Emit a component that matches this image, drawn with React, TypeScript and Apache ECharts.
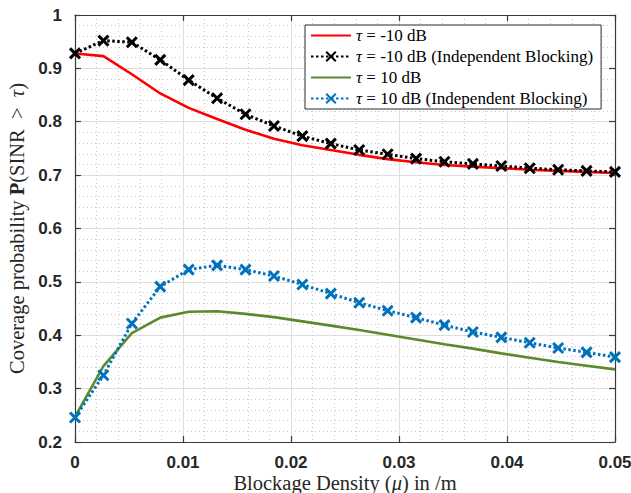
import React, { useEffect, useRef } from "react";
import * as echarts from "echarts";

const xValues = [0, 0.002632, 0.005263, 0.007895, 0.010526, 0.013158, 0.015789, 0.018421, 0.021053, 0.023684, 0.026316, 0.028947, 0.031579, 0.034211, 0.036842, 0.039474, 0.042105, 0.044737, 0.047368, 0.05];
const redVals = [0.928, 0.923, 0.889, 0.853, 0.826, 0.805, 0.785, 0.768, 0.756, 0.747, 0.738, 0.730, 0.724, 0.719, 0.716, 0.713, 0.710, 0.708, 0.706, 0.704];
const blackVals = [0.928, 0.952, 0.949, 0.916, 0.878, 0.844, 0.814, 0.792, 0.773, 0.759, 0.747, 0.739, 0.731, 0.725, 0.721, 0.717, 0.713, 0.710, 0.708, 0.706];
const greenVals = [0.247, 0.342, 0.404, 0.433, 0.444, 0.445, 0.440, 0.434, 0.426, 0.418, 0.410, 0.401, 0.392, 0.383, 0.375, 0.366, 0.358, 0.350, 0.343, 0.336];
const blueVals = [0.246, 0.325, 0.422, 0.491, 0.523, 0.531, 0.523, 0.511, 0.495, 0.478, 0.461, 0.446, 0.433, 0.419, 0.406, 0.396, 0.386, 0.376, 0.368, 0.359];
const seriesNames = [
  "τ = -10 dB",
  "τ = -10 dB (Independent Blocking)",
  "τ = 10 dB",
  "τ = 10 dB (Independent Blocking)",
];
const xTitle = "Blockage Density ({i|μ}) in /m";
const yTitle = "Coverage probability {b|P}(SINR  >  {i|τ})";

const SERIF = "'Liberation Serif', 'Times New Roman', serif";
const SANS = "'Liberation Sans', Arial, Helvetica, sans-serif";
const AXIS_COLOR = "#3a3a3a";
const X_MARK = "path://M0,0L10,10M10,0L0,10";
const TITLE_SIZE = 20.5;
const TICK_SIZE = 17;

function pairs(ys: number[]) {
  return ys.map((y, i) => [xValues[i], y]);
}

export default function App() {
  const ref = useRef<HTMLDivElement>(null);
  useEffect(() => {
    document.body.style.margin = "0";
    const chart = echarts.init(ref.current!, null, { renderer: "svg" });
    const titleRich = {
      i: { fontStyle: "italic", fontFamily: SERIF, fontSize: TITLE_SIZE, lineHeight: 22, color: "#262626" },
      b: { fontWeight: "bold", fontFamily: SERIF, fontSize: TITLE_SIZE, lineHeight: 22, color: "#262626" },
    };
    const lineSeries = (name: string, data: number[], color: string, dotted: boolean) => ({
      name,
      type: "line",
      data: pairs(data),
      xAxisIndex: 0,
      yAxisIndex: 0,
      showSymbol: dotted,
      symbol: dotted ? X_MARK : "none",
      symbolSize: 10,
      lineStyle: { color, width: dotted ? 3 : 2.6, type: dotted ? [2.5, 2.5] : "solid" },
      itemStyle: { color, borderColor: color, borderWidth: 3 },
      emphasis: { disabled: true },
    });
    const legendItem = (name: string, solid: boolean) =>
      solid ? { name, itemStyle: { opacity: 0 } } : { name };
    chart.setOption({
      animation: false,
      backgroundColor: "#ffffff",
      grid: { left: 75, right: 16, top: 15, bottom: 51, containLabel: false, outerBoundsMode: "none" },
      legend: {
        left: 305,
        top: 25,
        orient: "vertical",
        itemWidth: 40,
        itemHeight: 12,
        itemGap: 4,
        padding: [2, 8, 2, 5],
        backgroundColor: "#ffffff",
        borderColor: "#2a2a2a",
        borderWidth: 1,
        borderRadius: 0,
        z: 10,
        data: [
          legendItem(seriesNames[0], true),
          legendItem(seriesNames[1], false),
          legendItem(seriesNames[2], true),
          legendItem(seriesNames[3], false),
        ],
        formatter: (name: string) => name.replace("τ", "{i|τ}"),
        textStyle: {
          fontFamily: SERIF,
          fontSize: 17,
          lineHeight: 17,
          color: "#000",
          rich: { i: { fontStyle: "italic", fontFamily: SERIF, fontSize: 17, lineHeight: 17, color: "#000" } },
        },
      },
      xAxis: [
        {
          type: "value",
          min: 0,
          max: 0.05,
          interval: 0.01,
          position: "bottom",
          name: xTitle,
          nameLocation: "middle",
          nameGap: 30,
          nameMoveOverlap: false,
          nameTextStyle: { fontFamily: SERIF, fontSize: TITLE_SIZE, lineHeight: 22, color: "#262626", rich: titleRich },
          axisLine: { show: true, onZero: false, lineStyle: { color: AXIS_COLOR, width: 1.2 } },
          axisTick: { show: true, inside: true, length: 6, lineStyle: { color: AXIS_COLOR, width: 1.2 } },
          axisLabel: { margin: 12, fontFamily: SANS, fontSize: TICK_SIZE, fontWeight: "bold", color: "#262626" },
          splitLine: { show: true, lineStyle: { color: "#dedede", width: 1 } },
          minorTick: { show: false, splitNumber: 5 },
          minorSplitLine: { show: true, lineStyle: { color: "#c8c8c8", width: 1, type: [1, 3] } },
        },
        {
          type: "value",
          min: 0,
          max: 0.05,
          interval: 0.01,
          position: "top",
          axisLine: { show: true, onZero: false, lineStyle: { color: AXIS_COLOR, width: 1.2 } },
          axisTick: { show: true, inside: true, length: 6, lineStyle: { color: AXIS_COLOR, width: 1.2 } },
          axisLabel: { show: false },
          splitLine: { show: false },
        },
      ],
      yAxis: [
        {
          type: "value",
          min: 0.2,
          max: 1,
          interval: 0.1,
          position: "left",
          name: yTitle,
          nameLocation: "middle",
          nameGap: 47,
          nameMoveOverlap: false,
          nameTextStyle: { fontFamily: SERIF, fontSize: TITLE_SIZE, lineHeight: 22, color: "#262626", rich: titleRich },
          axisLine: { show: true, onZero: false, lineStyle: { color: AXIS_COLOR, width: 1.2 } },
          axisTick: { show: true, inside: true, length: 6, lineStyle: { color: AXIS_COLOR, width: 1.2 } },
          axisLabel: { margin: 13, fontFamily: SANS, fontSize: TICK_SIZE, fontWeight: "bold", color: "#262626" },
          splitLine: { show: true, lineStyle: { color: "#dedede", width: 1 } },
          minorTick: { show: false, splitNumber: 5 },
          minorSplitLine: { show: true, lineStyle: { color: "#c8c8c8", width: 1, type: [1, 3] } },
        },
        {
          type: "value",
          min: 0.2,
          max: 1,
          interval: 0.1,
          position: "right",
          axisLine: { show: true, onZero: false, lineStyle: { color: AXIS_COLOR, width: 1.2 } },
          axisTick: { show: true, inside: true, length: 6, lineStyle: { color: AXIS_COLOR, width: 1.2 } },
          axisLabel: { show: false },
          splitLine: { show: false },
        },
      ],
      series: [
        lineSeries(seriesNames[0], redVals, "#ff0000", false),
        lineSeries(seriesNames[1], blackVals, "#000000", true),
        lineSeries(seriesNames[2], greenVals, "#5b8a2d", false),
        lineSeries(seriesNames[3], blueVals, "#0072bd", true),
      ],
    });
    return () => chart.dispose();
  }, []);
  return <div ref={ref} style={{ width: 631, height: 493 }} />;
}
